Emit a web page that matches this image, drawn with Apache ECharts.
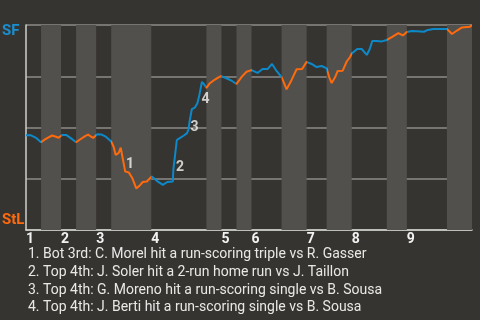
<!DOCTYPE html>
<html><head><meta charset="utf-8">
<script src="https://cdn.jsdelivr.net/npm/echarts@6/dist/echarts.min.js"></script>
<style>html,body{margin:0;padding:0;background:#363430;}#c{width:480px;height:320px;}</style>
</head><body><div id="c"></div>
<script>
// Half-inning boundaries (cumulative plate appearances)
const halfInningBounds = [0,3,7,10,14,17,25,36,39,42,45,51,56,60,65,72,76,84,89];
const inningLabels = ['1','2','3','4','5','6','7','8','9'];
// Event position along game and SF win probability (%)
const eventX = [0,1,2.1,3,3.8,4.5,5.2,6,6.5,7.2,8,9,10,11,11.8,12.4,13,13.4,14.2,15,16,17,
 17.5,17.9,18.5,18.9,19.2,19.8,20.5,21.2,22,22.8,23.3,24.1,25.1,
 26.1,27.3,28.2,29.3,29.4,29.7,30.1,30.6,31.5,32.1,32.4,32.7,33.1,33.7,34.2,34.6,35.1,35.5,36,
 36.7,37.7,38.5,39,40.1,41.1,42,43,44,45,46.2,47.2,48.2,49.1,50,51,
 51.5,52,53,54,55.1,56,57,58,59,60,60.5,61,61.7,62.2,63.2,64,64.7,65,
 66.1,67,68,68.6,69.1,70,71,72,73,74.3,75.2,76,77,78,79.4,80.2,81.3,84,85,86,87,88.6,89];
const sfWinPct = [46.2,46.2,44.8,42.8,44.2,45.2,46.1,45.5,45.0,46.3,46.4,44.7,42.8,44.5,45.8,46.5,45.5,44.9,46.7,46.6,45.4,43.2,
 40.5,36.6,37.6,40.2,40.7,28.5,28.1,25.4,20.3,22.0,23.4,23.7,26.1,
 24.0,22.0,23.4,23.7,29.3,35.6,43.9,44.7,46.1,47.1,48.8,53.7,59.0,59.7,61.8,65.9,72.2,71.2,69.3,
 71.6,73.4,74.6,75.1,73.9,72.7,71.2,74.6,77.2,78.0,76.6,78.5,78.5,81.0,77.6,74.6,
 71.7,68.6,73.2,78.4,78.5,82.0,81.0,79.5,80.0,78.8,74.6,71.7,74.6,77.6,77.7,82.2,84.5,86.1,
 88.3,88.3,85.4,88.3,92.2,92.2,92.0,92.7,94.1,96.0,94.9,96.6,97.1,97.0,96.7,97.6,98.0,98.1,95.6,97.3,98.8,99.2,100];
// Key play markers
const keyPlayIds = ['1','2','3','4'];
const keyPlayX = [20.75,30.73,33.63,35.82];
const keyPlayPct = [32.0,30.7,50.2,63.6];
const keyPlayNotes = [
 '1. Bot 3rd: C. Morel hit a run-scoring triple vs R. Gasser',
 '2. Top 4th: J. Soler hit a 2-run home run vs J. Taillon',
 '3. Top 4th: G. Moreno hit a run-scoring single vs B. Sousa',
 '4. Top 4th: J. Berti hit a run-scoring single vs B. Sousa'
];
const teams = ['SF','StL'];

const BLUE = '#0d88c8', ORANGE = '#ff6a0c', BG = '#363430', BAND = '#52504d';
const inningStarts = halfInningBounds.filter((v,i)=>i%2===0 && i<halfInningBounds.length-1);
const pieces = [];
for (let i=0;i<halfInningBounds.length-1;i++){
  const p = {gte: halfInningBounds[i], color: i%2===0?BLUE:ORANGE};
  if (i===halfInningBounds.length-2) p.lte = halfInningBounds[i+1]; else p.lt = halfInningBounds[i+1];
  pieces.push(p);
}
const bands = [];
for (let i=1;i<halfInningBounds.length-1;i+=2) bands.push([{xAxis: halfInningBounds[i]},{xAxis: halfInningBounds[i+1]}]);

const chart = echarts.init(document.getElementById('c'), null, {renderer:'canvas'});
chart.setOption({
  backgroundColor: BG,
  animation: false,
  textStyle: {fontFamily: 'Roboto'},
  grid: {left: 26, right: 8, top: 25, bottom: 90},
  xAxis: {
    type: 'value', min: 0, max: halfInningBounds[halfInningBounds.length-1],
    axisLine: {show: true, lineStyle: {color: '#d6d6d4', width: 1.5}},
    axisTick: {show: false}, splitLine: {show: false},
    axisLabel: {
      customValues: inningStarts,
      formatter: v => inningLabels[inningStarts.indexOf(v)] || '',
      color: '#f2f2f2', fontWeight: 'bold', fontSize: 14, align: 'left', margin: 2,
      hideOverlap: false
    }
  },
  yAxis: {
    type: 'value', min: 0, max: 100, interval: 25,
    axisLine: {show: true, lineStyle: {color: '#cfcfcd', width: 1.5}},
    axisTick: {show: false}, axisLabel: {show: false},
    splitLine: {show: true, lineStyle: {color: '#8d8b87', width: 1.5}}
  },
  visualMap: {type: 'piecewise', show: false, dimension: 0, seriesIndex: 0, pieces: pieces},
  series: [{
    type: 'line', data: eventX.map((x,i)=>[x, sfWinPct[i]]),
    symbol: 'none', lineStyle: {width: 2}, z: 3,
    markArea: {silent: true, itemStyle: {color: BAND}, data: bands}
  },{
    type: 'scatter', data: keyPlayX.map((x,i)=>({value:[x, keyPlayPct[i]], name: keyPlayIds[i]})),
    symbolSize: 1, itemStyle: {color: 'transparent'}, z: 4,
    label: {show: true, position: 'inside', formatter: p => p.name, color: '#f4f4f4', fontWeight: 'bold', fontSize: 14}
  }],
  graphic: [
    {type: 'text', left: 2, top: 24, style: {text: teams[0], fill: '#1a8fd0', font: 'bold 15px Roboto'}},
    {type: 'text', left: 2, top: 213, style: {text: teams[1], fill: ORANGE, font: 'bold 15px Roboto'}},
    {type: 'text', left: 28, top: 246, style: {text: keyPlayNotes.join('\n'), fill: '#e8e8e6', font: '14px Roboto', lineHeight: 17.6}}
  ]
});
</script></body></html>
